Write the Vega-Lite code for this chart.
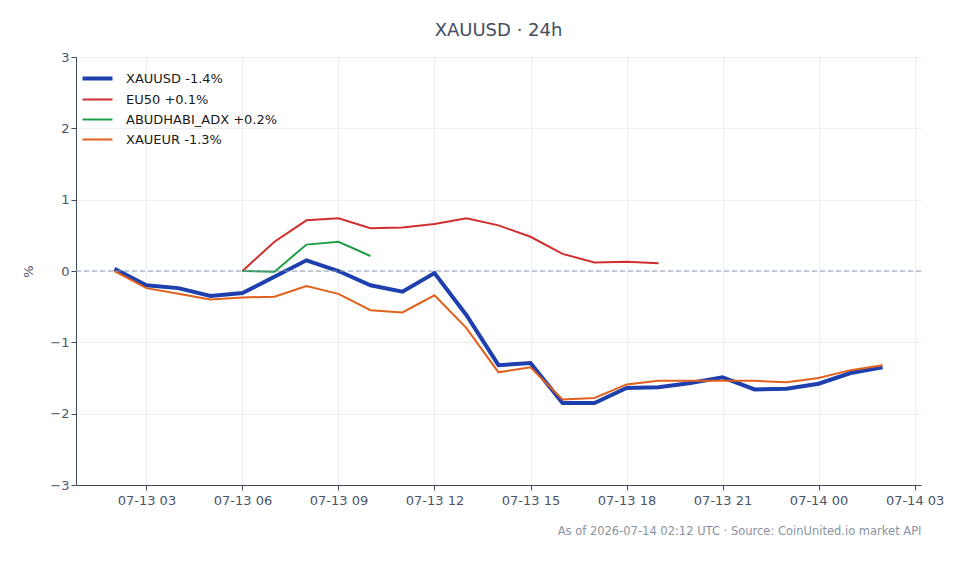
{
  "width": 845,
  "height": 428,
  "padding": {"left": 22, "top": 22, "right": 5, "bottom": 5},
  "config": {
    "font": "DejaVu Sans",
    "view": {"stroke": null},
    "axis": {"labelColor": "#4a5568", "titleColor": "#4a5568", "domainColor": "#3f4a5a", "tickColor": "#3f4a5a", "gridColor": "#eceef2", "labelFontSize": 13, "tickSize": 5}
  },
  "title": {"text": "XAUUSD · 24h", "fontSize": 18, "fontWeight": "normal", "color": "#444e5c", "anchor": "middle", "offset": 11},
  "data": {"values": [
      {"t": 1783908000000, "s": "XAUUSD -1.4%", "v": 0.03},
      {"t": 1783911600000, "s": "XAUUSD -1.4%", "v": -0.2},
      {"t": 1783915200000, "s": "XAUUSD -1.4%", "v": -0.24},
      {"t": 1783918800000, "s": "XAUUSD -1.4%", "v": -0.35},
      {"t": 1783922400000, "s": "XAUUSD -1.4%", "v": -0.31},
      {"t": 1783926000000, "s": "XAUUSD -1.4%", "v": -0.08},
      {"t": 1783929600000, "s": "XAUUSD -1.4%", "v": 0.15},
      {"t": 1783933200000, "s": "XAUUSD -1.4%", "v": 0.0},
      {"t": 1783936800000, "s": "XAUUSD -1.4%", "v": -0.2},
      {"t": 1783940400000, "s": "XAUUSD -1.4%", "v": -0.29},
      {"t": 1783944000000, "s": "XAUUSD -1.4%", "v": -0.03},
      {"t": 1783947600000, "s": "XAUUSD -1.4%", "v": -0.62},
      {"t": 1783951200000, "s": "XAUUSD -1.4%", "v": -1.32},
      {"t": 1783954800000, "s": "XAUUSD -1.4%", "v": -1.29},
      {"t": 1783958400000, "s": "XAUUSD -1.4%", "v": -1.85},
      {"t": 1783962000000, "s": "XAUUSD -1.4%", "v": -1.85},
      {"t": 1783965600000, "s": "XAUUSD -1.4%", "v": -1.64},
      {"t": 1783969200000, "s": "XAUUSD -1.4%", "v": -1.63},
      {"t": 1783972800000, "s": "XAUUSD -1.4%", "v": -1.57},
      {"t": 1783976400000, "s": "XAUUSD -1.4%", "v": -1.49},
      {"t": 1783980000000, "s": "XAUUSD -1.4%", "v": -1.66},
      {"t": 1783983600000, "s": "XAUUSD -1.4%", "v": -1.65},
      {"t": 1783987200000, "s": "XAUUSD -1.4%", "v": -1.58},
      {"t": 1783990800000, "s": "XAUUSD -1.4%", "v": -1.43},
      {"t": 1783994400000, "s": "XAUUSD -1.4%", "v": -1.35},
      {"t": 1783922400000, "s": "EU50 +0.1%", "v": 0.0},
      {"t": 1783926000000, "s": "EU50 +0.1%", "v": 0.41},
      {"t": 1783929600000, "s": "EU50 +0.1%", "v": 0.71},
      {"t": 1783933200000, "s": "EU50 +0.1%", "v": 0.74},
      {"t": 1783936800000, "s": "EU50 +0.1%", "v": 0.6},
      {"t": 1783940400000, "s": "EU50 +0.1%", "v": 0.61},
      {"t": 1783944000000, "s": "EU50 +0.1%", "v": 0.66},
      {"t": 1783947600000, "s": "EU50 +0.1%", "v": 0.74},
      {"t": 1783951200000, "s": "EU50 +0.1%", "v": 0.64},
      {"t": 1783954800000, "s": "EU50 +0.1%", "v": 0.48},
      {"t": 1783958400000, "s": "EU50 +0.1%", "v": 0.24},
      {"t": 1783962000000, "s": "EU50 +0.1%", "v": 0.12},
      {"t": 1783965600000, "s": "EU50 +0.1%", "v": 0.13},
      {"t": 1783969200000, "s": "EU50 +0.1%", "v": 0.11},
      {"t": 1783922400000, "s": "ABUDHABI_ADX +0.2%", "v": 0.0},
      {"t": 1783926000000, "s": "ABUDHABI_ADX +0.2%", "v": -0.01},
      {"t": 1783929600000, "s": "ABUDHABI_ADX +0.2%", "v": 0.37},
      {"t": 1783933200000, "s": "ABUDHABI_ADX +0.2%", "v": 0.41},
      {"t": 1783936800000, "s": "ABUDHABI_ADX +0.2%", "v": 0.21},
      {"t": 1783908000000, "s": "XAUEUR -1.3%", "v": 0.0},
      {"t": 1783911600000, "s": "XAUEUR -1.3%", "v": -0.24},
      {"t": 1783915200000, "s": "XAUEUR -1.3%", "v": -0.32},
      {"t": 1783918800000, "s": "XAUEUR -1.3%", "v": -0.4},
      {"t": 1783922400000, "s": "XAUEUR -1.3%", "v": -0.37},
      {"t": 1783926000000, "s": "XAUEUR -1.3%", "v": -0.36},
      {"t": 1783929600000, "s": "XAUEUR -1.3%", "v": -0.21},
      {"t": 1783933200000, "s": "XAUEUR -1.3%", "v": -0.32},
      {"t": 1783936800000, "s": "XAUEUR -1.3%", "v": -0.55},
      {"t": 1783940400000, "s": "XAUEUR -1.3%", "v": -0.58},
      {"t": 1783944000000, "s": "XAUEUR -1.3%", "v": -0.34},
      {"t": 1783947600000, "s": "XAUEUR -1.3%", "v": -0.8},
      {"t": 1783951200000, "s": "XAUEUR -1.3%", "v": -1.42},
      {"t": 1783954800000, "s": "XAUEUR -1.3%", "v": -1.35},
      {"t": 1783958400000, "s": "XAUEUR -1.3%", "v": -1.8},
      {"t": 1783962000000, "s": "XAUEUR -1.3%", "v": -1.78},
      {"t": 1783965600000, "s": "XAUEUR -1.3%", "v": -1.59},
      {"t": 1783969200000, "s": "XAUEUR -1.3%", "v": -1.54},
      {"t": 1783972800000, "s": "XAUEUR -1.3%", "v": -1.54},
      {"t": 1783976400000, "s": "XAUEUR -1.3%", "v": -1.54},
      {"t": 1783980000000, "s": "XAUEUR -1.3%", "v": -1.54},
      {"t": 1783983600000, "s": "XAUEUR -1.3%", "v": -1.56},
      {"t": 1783987200000, "s": "XAUEUR -1.3%", "v": -1.5},
      {"t": 1783990800000, "s": "XAUEUR -1.3%", "v": -1.39},
      {"t": 1783994400000, "s": "XAUEUR -1.3%", "v": -1.32}
  ]},
  "encoding": {
    "x": {
      "field": "t", "type": "temporal",
      "scale": {"type": "utc", "domain": [1783903680000, 1783998720000]},
      "axis": {
        "format": "%m-%d %H",
        "values": [1783911600000, 1783922400000, 1783933200000, 1783944000000, 1783954800000, 1783965600000, 1783976400000, 1783987200000, 1783998000000],
        "labelPadding": 4,
        "title": "As of 2026-07-14 02:12 UTC · Source: CoinUnited.io market API",
        "titleFontSize": 11.5, "titleFontWeight": "normal", "titleColor": "#8a93a0",
        "titleAnchor": "end", "titlePadding": 18
      }
    },
    "y": {
      "field": "v", "type": "quantitative",
      "scale": {"domain": [-3, 3]},
      "axis": {"values": [-3, -2, -1, 0, 1, 2, 3], "title": "%", "titleFontSize": 13, "titleFontWeight": "normal", "titlePadding": 14}
    },
    "color": {
      "field": "s", "type": "nominal",
      "scale": {"domain": ["XAUUSD -1.4%", "EU50 +0.1%", "ABUDHABI_ADX +0.2%", "XAUEUR -1.3%"], "range": ["#1e40af", "#d12f2f", "#1f9e48", "#e0601c"]},
      "legend": {
        "title": null, "orient": "top-left", "offset": 9, "padding": 6, "symbolType": "stroke", "symbolSize": 900,
        "labelFontSize": 13, "labelColor": "#1a1a1a", "labelOffset": 22, "rowPadding": 6,
        "encode": {"symbols": {"update": {"strokeWidth": {"signal": "datum.value === 'XAUUSD -1.4%' ? 4 : 2"}}}}
      }
    }
  },
  "layer": [
    {
      "transform": [{"filter": "datum.s === 'XAUUSD -1.4%'"}],
      "mark": {"type": "line", "strokeWidth": 4}
    },
    {
      "transform": [{"filter": "datum.s !== 'XAUUSD -1.4%'"}],
      "mark": {"type": "line", "strokeWidth": 2}
    },
    {
      "data": {"values": [{"z": 0}]},
      "mark": {"type": "rule", "color": "#8e9bb1", "strokeWidth": 1, "strokeDash": [5, 3]},
      "encoding": {"x": null, "color": null, "y": {"field": "z", "type": "quantitative"}}
    }
  ]
}
